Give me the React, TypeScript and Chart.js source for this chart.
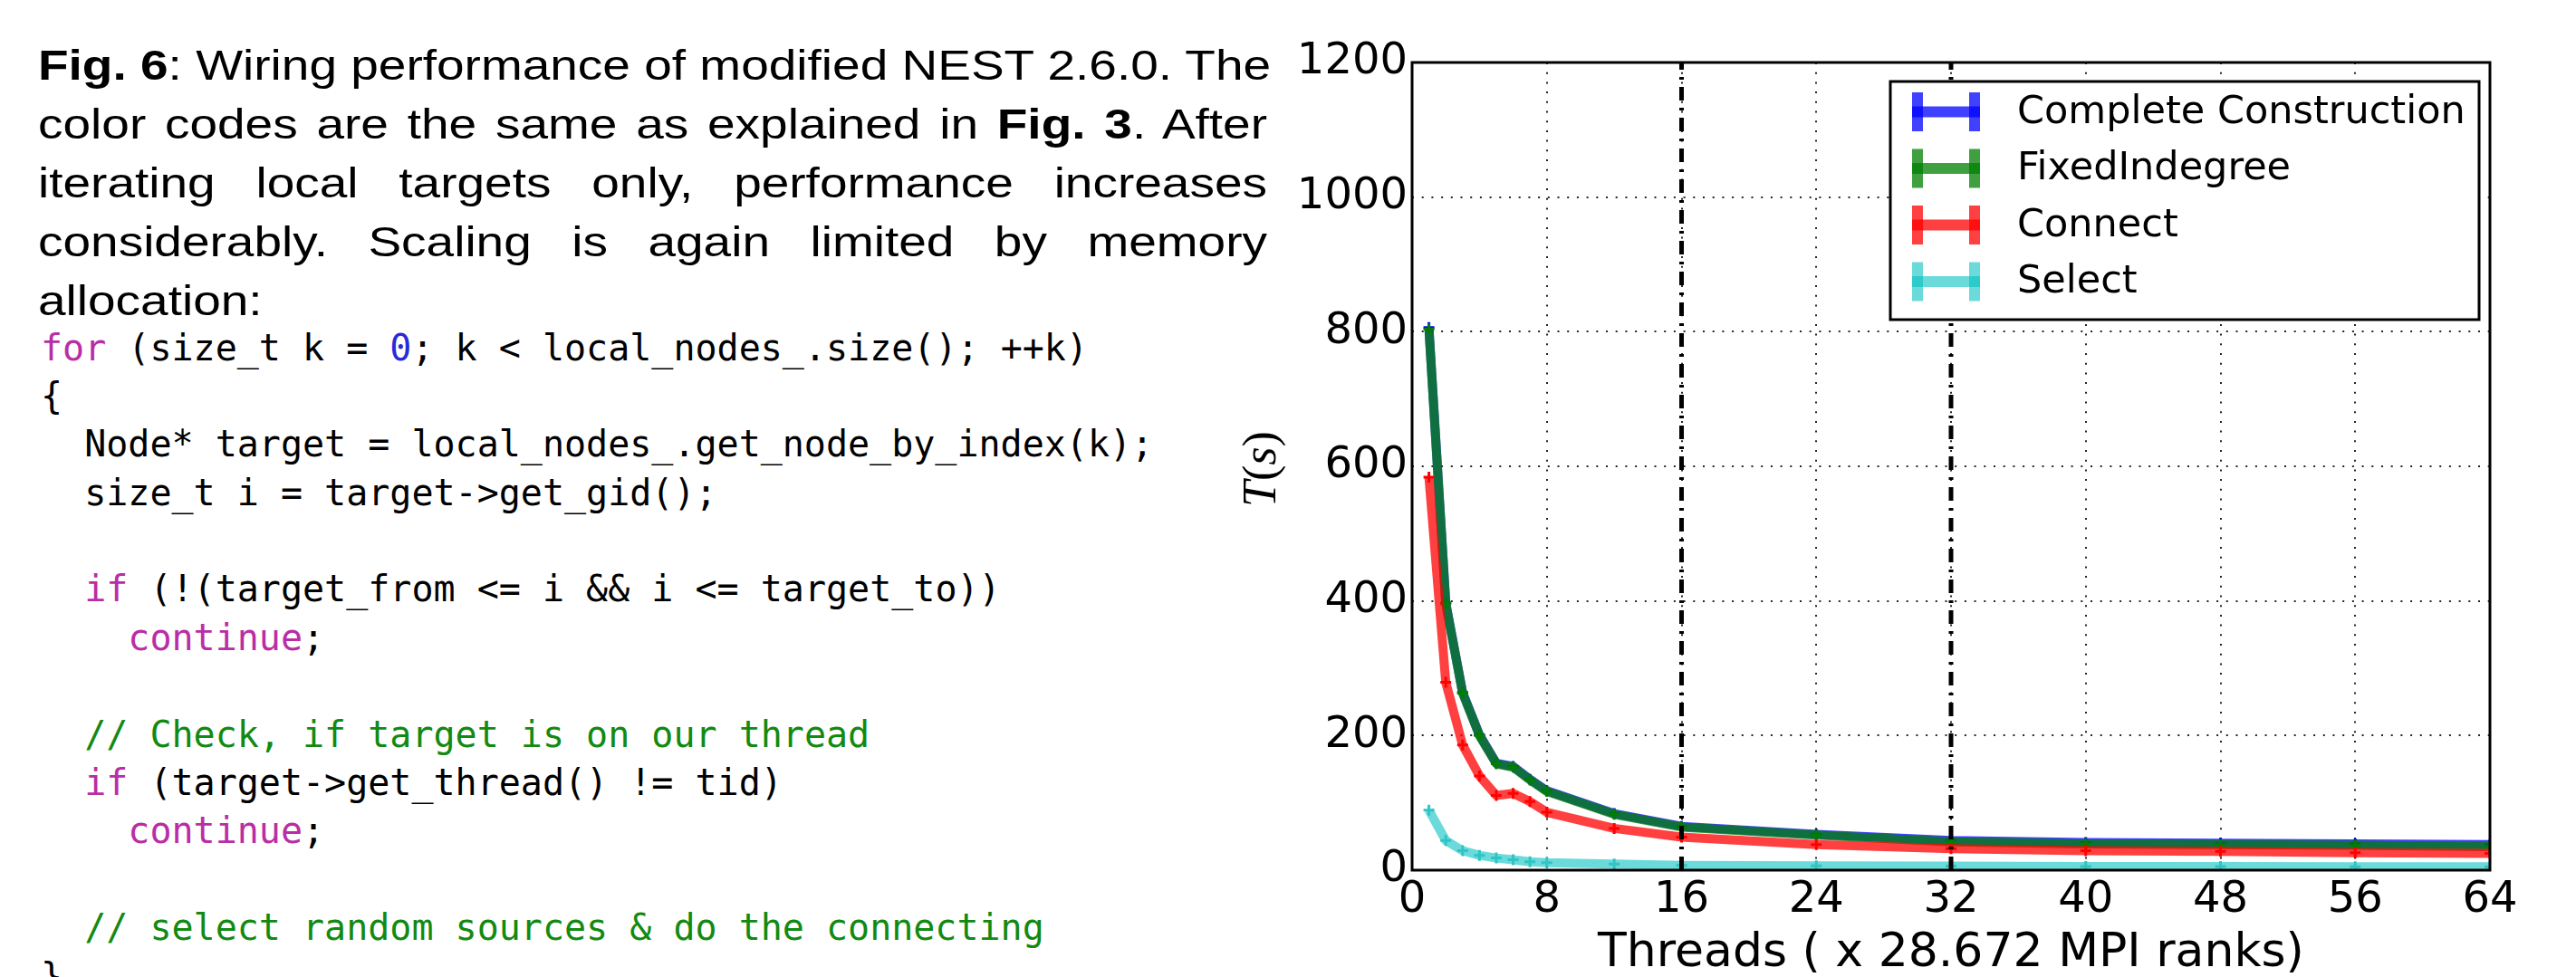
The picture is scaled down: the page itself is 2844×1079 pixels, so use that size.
import React, { useEffect, useRef } from 'react';
import Chart from 'chart.js/auto';

// ---------- data ----------
const threads = [1, 2, 3, 4, 5, 6, 7, 8, 12, 16, 24, 32, 40, 48, 56, 64];
const completeConstruction = [806, 397, 264, 201, 159, 154, 135, 118, 84, 65, 53, 44, 41, 40, 39, 38];
const fixedIndegree = [804, 396, 263, 200, 158, 153, 134, 117, 83, 64, 52, 42, 39, 38, 37, 35];
const connect = [584, 279, 186, 140, 111, 114, 102, 86, 62, 49, 38, 32, 29, 28, 26, 25];
const select = [89, 44, 29, 22, 18, 15.5, 12.5, 11, 9, 7, 6.5, 6, 5.5, 5.5, 5, 5];
const seriesNames = ['Complete Construction', 'FixedIndegree', 'Connect', 'Select'];
const markerThreads = [16, 32];
const xMin = 0;
const xMax = 64;
const xStep = 8;
const yMin = 0;
const yMax = 1200;
const yStep = 200;
const xTitle = 'Threads ( x 28.672 MPI ranks)';

const captionLines: Array<Array<[string, boolean]>> = [
  [['Fig. 6', true], [': Wiring performance of modified NEST 2.6.0. The', false]],
  [['color codes are the same as explained in ', false], ['Fig. 3', true], ['. After', false]],
  [['iterating local targets only, performance increases', false]],
  [['considerably. Scaling is again limited by memory', false]],
  [['allocation:', false]],
];

const codeLines: Array<Array<[string, string]>> = [
  [['for', 'k'], [' (size_t k = ', ''], ['0', 'n'], ['; k < local_nodes_.size(); ++k)', '']],
  [['{', '']],
  [['  Node* target = local_nodes_.get_node_by_index(k);', '']],
  [['  size_t i = target->get_gid();', '']],
  [['', '']],
  [['  ', ''], ['if', 'k'], [' (!(target_from <= i && i <= target_to))', '']],
  [['    ', ''], ['continue', 'k'], [';', '']],
  [['', '']],
  [['  ', ''], ['// Check, if target is on our thread', 'c']],
  [['  ', ''], ['if', 'k'], [' (target->get_thread() != tid)', '']],
  [['    ', ''], ['continue', 'k'], [';', '']],
  [['', '']],
  [['  ', ''], ['// select random sources & do the connecting', 'c']],
  [['}', '']],
];

const codeColors: Record<string, string> = { k: '#b92ea6', n: '#2a2ad8', c: '#128a12', '': '#000' };

const lineColors = ['rgba(0,0,255,0.75)', 'rgba(0,127,0,0.75)', 'rgba(255,0,0,0.75)', 'rgba(0,191,191,0.58)'];
const markerColors = ['#0000ff', '#007f00', '#ff0000', '#30c4c4'];

const decorPlugin = {
  id: 'decor',
  afterDatasetsDraw(chart: any) {
    const { ctx, chartArea: a } = chart;
    ctx.save();
    // frame
    ctx.strokeStyle = '#000';
    ctx.lineWidth = 3;
    ctx.strokeRect(a.left, a.top, a.right - a.left, a.bottom - a.top);
    // legend
    const lw = 650;
    const lh = 263;
    const lx = a.right - 12 - lw;
    const ly = a.top + 21;
    ctx.fillStyle = '#fff';
    ctx.fillRect(lx, ly, lw, lh);
    ctx.lineWidth = 3;
    ctx.strokeRect(lx, ly, lw, lh);
    const rowCenters = [33.5, 96, 158.5, 221];
    seriesNames.forEach((name, i) => {
      const cy = ly + rowCenters[i];
      const sx = lx + 24;
      ctx.fillStyle = lineColors[i];
      ctx.fillRect(sx, cy - 6, 75, 12);
      ctx.fillRect(sx, cy - 21.5, 12, 43);
      ctx.fillRect(sx + 63, cy - 21.5, 12, 43);
      ctx.fillStyle = '#000';
      ctx.font = '43px "DejaVu Sans"';
      ctx.textBaseline = 'middle';
      ctx.textAlign = 'left';
      ctx.fillText(name, lx + 140, cy + 1);
    });
    ctx.restore();
  },
  afterDraw(chart: any) {
    const { ctx, chartArea: a } = chart;
    ctx.save();
    ctx.translate(55, (a.top + a.bottom) / 2 + 3);
    ctx.rotate(-Math.PI / 2);
    const size = 52;
    const parts: Array<[string, string]> = [
      ['T', `italic ${size}px "Liberation Serif"`],
      ['(', `${size}px "Liberation Serif"`],
      ['s', `italic ${size}px "Liberation Serif"`],
      [')', `${size}px "Liberation Serif"`],
    ];
    let total = 0;
    parts.forEach(([t, f]) => { ctx.font = f; total += ctx.measureText(t).width; });
    let x = -total / 2;
    ctx.fillStyle = '#000';
    ctx.textBaseline = 'alphabetic';
    ctx.textAlign = 'left';
    parts.forEach(([t, f]) => {
      ctx.font = f;
      ctx.fillText(t, x, size * 0.25);
      x += ctx.measureText(t).width;
    });
    ctx.restore();
  },
};

function toPoints(values: number[]) {
  return threads.map((t, i) => ({ x: t, y: values[i] }));
}

const CAPTION_STRETCH = 1.17;

export default function App() {
  const canvasRef = useRef<HTMLCanvasElement>(null);

  useEffect(() => {
    const seriesValues = [completeConstruction, fixedIndegree, connect, select];
    const lineSets = seriesValues.map((vals, i) => ({
      label: seriesNames[i],
      data: toPoints(vals),
      borderColor: lineColors[i],
      backgroundColor: lineColors[i],
      borderWidth: 10,
      borderJoinStyle: 'round' as const,
      pointStyle: 'cross' as const,
      pointRadius: 6,
      pointBorderWidth: 3,
      pointBorderColor: markerColors[i],
      pointBackgroundColor: markerColors[i],
      fill: false,
      tension: 0,
      order: 10 - i,
    }));
    const vlineSets = markerThreads.map((t) => ({
      label: 'limit ' + t,
      data: [{ x: t, y: yMin }, { x: t, y: yMax }],
      borderColor: '#000',
      borderWidth: 5,
      borderDash: [15, 8, 3, 8],
      pointRadius: 0,
      fill: false,
      order: 0,
    }));

    const tickFont = { family: 'DejaVu Sans', size: 48 };
    const chart = new Chart(canvasRef.current as HTMLCanvasElement, {
      type: 'line',
      data: { datasets: [...lineSets, ...vlineSets] as any },
      options: {
        responsive: false,
        animation: false,
        layout: { padding: { left: 0, right: 95, top: 69, bottom: 0 } },
        plugins: { legend: { display: false }, tooltip: { enabled: false } },
        scales: {
          x: {
            type: 'linear',
            min: xMin,
            max: xMax,
            ticks: {
              stepSize: xStep,
              font: tickFont,
              color: '#000',
              padding: 5,
              maxRotation: 0,
              autoSkip: false,
              callback: (v: any) => String(v),
            },
            grid: { color: 'rgba(0,0,0,0.85)', lineWidth: 2, drawTicks: false },
            border: { display: false, dash: [2, 8.7] },
            title: {
              display: true,
              text: xTitle,
              color: '#000',
              font: { family: 'DejaVu Sans', size: 52, lineHeight: 1 },
              padding: 0,
            },
            afterFit: (s: any) => { s.height = 118; },
          },
          y: {
            type: 'linear',
            min: yMin,
            max: yMax,
            ticks: {
              stepSize: yStep,
              font: tickFont,
              color: '#000',
              padding: 5,
              callback: (v: any) => String(v),
            },
            grid: { color: 'rgba(0,0,0,0.85)', lineWidth: 2, drawTicks: false },
            border: { display: false, dash: [2, 8.7] },
            afterFit: (s: any) => { s.width = 219; },
          },
        },
      } as any,
      plugins: [decorPlugin],
    });
    return () => chart.destroy();
  }, []);

  return (
    <div style={{ position: 'absolute', left: 0, top: 0, width: 2844, height: 1079, background: '#fff', overflow: 'hidden' }}>
      <div
        style={{
          position: 'absolute',
          left: 42,
          top: 39.2,
          width: 1357 / CAPTION_STRETCH,
          fontFamily: '"Liberation Sans", Arial, sans-serif',
          fontSize: 47,
          lineHeight: '65px',
          color: '#000',
          transform: `scaleX(${CAPTION_STRETCH})`,
          transformOrigin: 'left top',
        }}
      >
        {captionLines.map((parts, i) => (
          <div
            key={i}
            style={{
              textAlign: 'justify',
              textAlignLast: i < captionLines.length - 1 ? 'justify' : 'left',
              whiteSpace: 'nowrap',
            } as any}
          >
            {parts.map(([t, b], j) => (b ? <b key={j}>{t}</b> : <span key={j}>{t}</span>))}
          </div>
        ))}
      </div>
      <pre
        style={{
          position: 'absolute',
          left: 45,
          top: 357.5,
          margin: 0,
          fontFamily: '"DejaVu Sans Mono", monospace',
          fontSize: 40,
          lineHeight: '53.4px',
          color: '#000',
        }}
      >
        {codeLines.map((parts, i) => (
          <div key={i} style={{ height: 53.4 }}>
            {parts.map(([t, k], j) => (
              <span key={j} style={{ color: codeColors[k] }}>{t}</span>
            ))}
          </div>
        ))}
      </pre>
      <div style={{ position: 'absolute', left: 1340, top: 0, width: 1504, height: 1079 }}>
        <canvas ref={canvasRef} width={1504} height={1079} style={{ display: 'block' }} />
      </div>
    </div>
  );
}
